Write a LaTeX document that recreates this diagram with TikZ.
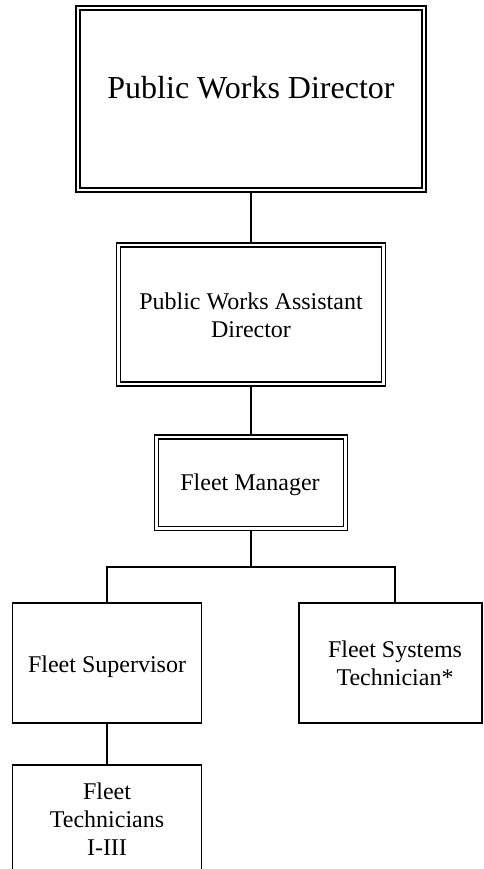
\documentclass[tikz,border=0pt]{standalone}
\usepackage{fontspec}
\setmainfont{Liberation Serif}
\begin{document}
\begin{tikzpicture}[x=0.75pt,y=-0.75pt,
  dbox/.style={draw, line width=1.2pt, double, double distance=1.8pt, fill=white,
    inner sep=0pt, outer sep=2.1pt, rectangle},
  sbox/.style={draw, line width=1.1pt, fill=white, inner sep=0pt, outer sep=0pt, rectangle},
  conn/.style={line width=1.1pt},
  txt/.style={anchor=base, inner sep=0pt, align=center, font=\fontsize{18}{20.7}\selectfont},
  bigtxt/.style={anchor=base, inner sep=0pt, font=\fontsize{24}{27}\selectfont}]
\useasboundingbox (0,0) rectangle (483,869);
% boxes
\node[dbox, minimum width=259.5pt, minimum height=136.5pt] (pwd) at (251,99) {};
\node[dbox, minimum width=198.75pt, minimum height=104.25pt] (asst) at (251,314.5) {};
\node[dbox, minimum width=141.75pt, minimum height=68.625pt] (fm) at (251,482.75) {};
\node[sbox, minimum width=141.75pt, minimum height=90pt] (fs) at (107,663) {};
\node[sbox, minimum width=137.25pt, minimum height=90pt] (fst) at (390.5,663) {};
\node[sbox, minimum width=141.75pt, minimum height=86.25pt] (ft) at (107,822.5) {};
% texts (base anchor = baseline of last line)
\node[bigtxt] (tpwd) at (251,98) {Public Works Director};
\node[txt] (tasst) at (251,337) {Public Works Assistant\\Director};
\node[txt] (tfm) at (250,490) {Fleet Manager};
\node[txt] (tfs) at (107,672) {Fleet Supervisor};
\node[txt] (tfst) at (395,685) {Fleet Systems\\Technician*};
\node[txt] (tft) at (107,855) {Fleet\\Technicians\\I-III};
% connectors
\coordinate (busL) at (107,567);
\coordinate (busR) at (395,567);
\draw[conn] (pwd.south) -- (asst.north);
\draw[conn] (asst.south) -- (fm.north);
\draw[conn] (fm.south) -- (fm.south |- busL);
\draw[conn] (fs.north) -- (busL) -- (busR) -- (busR |- fst.north);
\draw[conn] (fs.south) -- (ft.north);
\end{tikzpicture}
\end{document}
